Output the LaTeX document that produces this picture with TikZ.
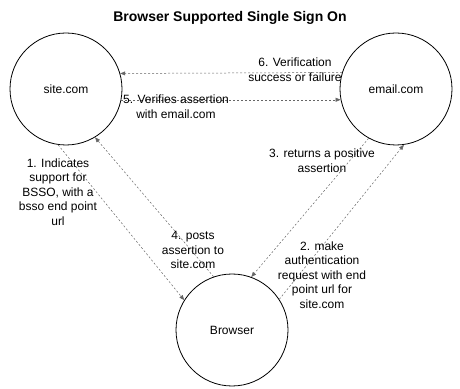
\documentclass[tikz,border=0pt]{standalone}
\usepackage{fontspec}
\setmainfont{Liberation Sans}
\usetikzlibrary{arrows.meta,positioning}

\begin{document}
\begin{tikzpicture}[x=1pt,y=1pt,
  party/.style={draw, line width=0.8pt, circle, minimum size=112pt, inner sep=0pt, font=\fontsize{12}{14.5}\selectfont},
  msg/.style={-{Triangle[length=5pt,width=4pt]}, line width=0.5pt, black!60, dash pattern=on 2pt off 2pt},
  lbl/.style={align=center, inner sep=1pt, font=\fontsize{12}{14.6}\selectfont}]
\useasboundingbox (0,0) rectangle (460,388);
% Title
\node[font=\bfseries\fontsize{14}{16}\selectfont] (title) at (230,370) {Browser Supported Single Sign On};
% Parties
\node[party] (site) at (66,299) {site.com};
\node[party] (email) at (396,299) {email.com};
\node[party] (browser) at (232,58) {Browser};
% Messages
\draw[msg] (site.-98) -- (browser.148);
\draw[msg] (browser.33) -- (email.-82.5);
\draw[msg] (email.-119) -- (browser.70);
\draw[msg] (browser.109) -- (site.-59);
\draw[msg] (site.-11.3) -- (email.191.3);
\draw[msg] (email.163.4) -- (site.16.6);
% Message labels
\node[lbl] (l1) at (58,196) {1. Indicates\\support for\\BSSO, with a\\bsso end point\\url};
\node[lbl] (l2) at (322,113) {2. make\\authentication\\request with end\\point url for\\site.com};
\node[lbl] (l3) at (322,227) {3. returns a positive\\assertion};
\node[lbl] (l4) at (193,138) {4. posts\\assertion to\\site.com};
\node[lbl] (l5) at (176,281) {5. Verifies assertion\\with email.com};
\node[lbl] (l6) at (295,318) {6. Verification\\success or failure};
\end{tikzpicture}
\end{document}
